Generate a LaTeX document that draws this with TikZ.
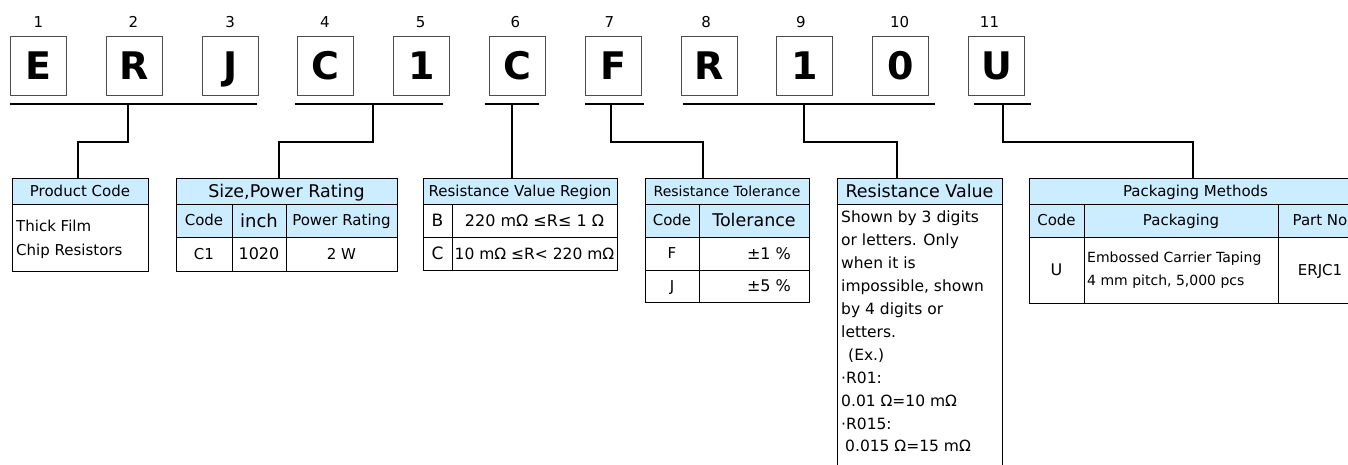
\documentclass[tikz,border=0pt]{standalone}
\usepackage{fontspec}
\setmainfont{DejaVu Sans}
\definecolor{hdblue}{RGB}{204,236,255}
\newcommand{\fsz}[1]{\fontsize{#1}{#1}\selectfont}

\begin{document}
\begin{tikzpicture}[x=1pt,y=-1pt,
    letter/.style={draw=black!70, line width=1pt, minimum width=56, minimum height=59, inner sep=0pt,
      font=\fsz{38}\bfseries, text height=27.7, text depth=0},
    num/.style={font=\fsz{15}},
    brk/.style={line width=1.3pt},
    conn/.style={line width=2pt},
    fs/.style={font=\fsz{#1}, text height={0.73*#1}, text depth=0},
    cell/.style 2 args={draw, line width=1pt, anchor=north west, inner sep=0pt, outer sep=0pt,
      minimum width=#1, minimum height=#2, fs=15},
    head/.style 2 args={cell={#1}{#2}, fill=hdblue},
    note/.style={anchor=north west, inner sep=0pt, align=left}]

  \path[fill=white] (0,0) rectangle (1348,464);
  \useasboundingbox (0,0) rectangle (1348,464);

  \foreach \ch/\dx [count=\i] in {E/0,R/-1,J/0,C/-1,1/-1,C/-2,F/-4,R/-3,1/-4,0/-1,U/-7} {
    \node[letter] (b\i) at ({38.5+95.8*(\i-1)},65.5) {\ch};
    \node[num] (n\i) at ({38.5+95.8*(\i-1)+\dx},22) {\i};
  }

  \draw[brk] (10,104) -- (257,104);
  \draw[brk] (295,104) -- (443,104);
  \draw[brk] (485,104) -- (539,104);
  \draw[brk] (585,104) -- (644,104);
  \draw[brk] (683,104) -- (935,104);
  \draw[brk] (974,104) -- (1031,104);
  \coordinate (t1) at (128,104);
  \coordinate (t2) at (373,104);
  \coordinate (t3) at (512,104);
  \coordinate (t4) at (611,104);
  \coordinate (t5) at (804,104);
  \coordinate (t6) at (1003,104);

  % product code
  \node[head={136}{26}] (pc) at (12,178) {Product Code};
  \node[cell={136}{67}] (pcb) at (12,204) {};
  \node[note, font=\fontsize{15}{24}\selectfont] (pct) at (16,220) {Thick Film\\Chip Resistors};

  % size, power rating
  \node[head={221}{26}, fs=17.5] (sz) at (176,178) {Size,Power Rating};
  \node[head={56}{33}] (szc) at (176,204) {Code};
  \node[head={54}{33}, fs=18] (szi) at (232,204) {inch};
  \node[head={111}{33}] (szp) at (286,204) {Power Rating};
  \node[cell={56}{34}] (szc1) at (176,237) {C1};
  \node[cell={54}{34}, fs=16] (szi1) at (232,237) {1020};
  \node[cell={111}{34}] (szp1) at (286,237) {2 W};

  % resistance value region
  \node[head={194}{26}] (rr) at (423,178) {Resistance Value Region};
  \node[cell={29}{33}, fs=17] (rrb) at (423,204) {B};
  \node[cell={165}{33}, fs=16] (rrbv) at (452,204) {220 mΩ ≤R≤ 1 Ω};
  \node[cell={29}{33}, fs=17] (rrc) at (423,237) {C};
  \node[cell={165}{33}, fs=15.5] (rrcv) at (452,237) {10 mΩ ≤R< 220 mΩ};

  % resistance tolerance
  \node[head={164}{26}, fs=14] (rt) at (645,178) {Resistance Tolerance};
  \node[head={54}{33}] (rtc) at (645,204) {Code};
  \node[head={110}{33}, fs=17.5] (rtt) at (699,204) {Tolerance};
  \node[cell={54}{33}] (rtf) at (645,237) {F};
  \node[cell={110}{33}] (rtfv) at (699,237) {};
  \node[cell={54}{32}] (rtj) at (645,270) {J};
  \node[cell={110}{32}] (rtjv) at (699,270) {};
  \node[fs=16] (rtfx) at (769,253.5) {±1 \%};
  \node[fs=16] (rtjx) at (769,286) {±5 \%};

  % resistance value
  \node[head={165}{26}, fs=17.5] (rv) at (837,178) {Resistance Value};
  \node[cell={165}{290}] (rvb) at (837,204) {};
  \node[note, font=\fontsize{15.5}{22.9}\selectfont] (rvt) at (841,211)
    {Shown by 3 digits\\or letters. Only\\when it is\\impossible, shown\\by 4 digits or\\letters.\\
     \hspace*{7pt}(Ex.)\\·R01:\\0.01 Ω=10 mΩ\\·R015:\\\hspace*{4pt}0.015 Ω=15 mΩ};

  % packaging methods
  \node[head={333}{26}] (pk) at (1029,178) {Packaging Methods};
  \node[head={55}{33}] (pkc) at (1029,204) {Code};
  \node[head={194}{33}] (pkp) at (1084,204) {Packaging};
  \node[head={84}{33}] (pkn) at (1278,204) {Part No};
  \node[cell={55}{66}, fs=16] (pku) at (1029,237) {U};
  \node[cell={194}{66}] (pkm) at (1084,237) {};
  \node[cell={84}{66}] (pke) at (1278,237) {ERJC1};
  \node[note, font=\fontsize{14}{23}\selectfont] (pkt) at (1087,252) {Embossed Carrier Taping\\4 mm pitch, 5,000 pcs};

  \draw[conn] (t1) -- ++(0,38) -| ([xshift=66pt]pc.north west);
  \draw[conn] (t2) -- ++(0,38) -| ([xshift=103pt]sz.north west);
  \draw[conn] (t3) -- ([xshift=89pt]rr.north west);
  \draw[conn] (t4) -- ++(0,38) -| ([xshift=58pt]rt.north west);
  \draw[conn] (t5) -- ++(0,38) -| ([xshift=60pt]rv.north west);
  \draw[conn] (t6) -- ++(0,38) -| ([xshift=164pt]pk.north west);

\end{tikzpicture}
\end{document}
